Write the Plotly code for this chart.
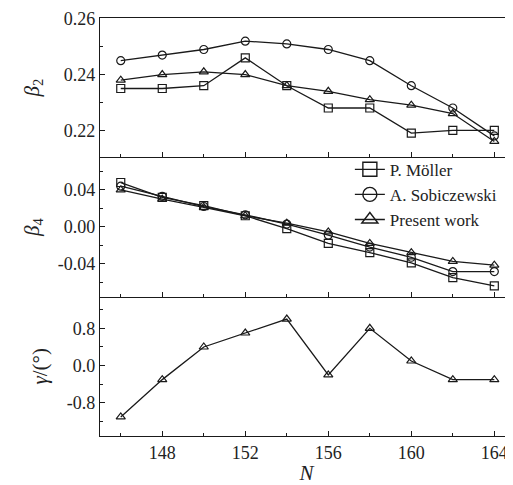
import plotly.graph_objects as go
from plotly.subplots import make_subplots

N = [146, 148, 150, 152, 154, 156, 158, 160, 162, 164]

beta2_moller = [0.235, 0.235, 0.236, 0.246, 0.236, 0.228, 0.228, 0.219, 0.220, 0.220]
beta2_sobic = [0.245, 0.247, 0.249, 0.252, 0.251, 0.249, 0.245, 0.236, 0.228, 0.218]
beta2_present = [0.238, 0.240, 0.241, 0.240, 0.236, 0.234, 0.231, 0.229, 0.226, 0.216]

beta4_moller = [0.048, 0.032, 0.023, 0.012, -0.002, -0.018, -0.028, -0.039, -0.055, -0.064]
beta4_sobic = [0.044, 0.033, 0.022, 0.013, 0.003, -0.009, -0.022, -0.033, -0.0485, -0.0485]
beta4_present = [0.040, 0.030, 0.021, 0.012, 0.004, -0.0055, -0.018, -0.028, -0.0375, -0.0415]

gamma_present = [-1.10, -0.30, 0.40, 0.70, 1.00, -0.20, 0.80, 0.10, -0.30, -0.30]

series_names = ["P. Möller", "A. Sobiczewski", "Present work"]
symbols = ["square-open", "circle-open", "triangle-up-open"]

FONT = "Liberation Serif"
LC = "#1a1a1a"
TC = "#222"

fig = make_subplots(rows=3, cols=1, shared_xaxes=True, vertical_spacing=0)

b2 = [beta2_moller, beta2_sobic, beta2_present]
b4 = [beta4_moller, beta4_sobic, beta4_present]


def mk(symbol, size=8):
    return dict(symbol=symbol, size=size, color=LC, line=dict(width=1.2, color=LC))


for i in range(3):
    fig.add_trace(go.Scatter(x=N, y=b2[i], mode="lines+markers", name=series_names[i],
                             showlegend=False, line=dict(color=LC, width=1.3),
                             marker=mk(symbols[i])), row=1, col=1)
for i in range(3):
    fig.add_trace(go.Scatter(x=N, y=b4[i], mode="lines+markers", name=series_names[i],
                             showlegend=False, line=dict(color=LC, width=1.3),
                             marker=mk(symbols[i])), row=2, col=1)
fig.add_trace(go.Scatter(x=N, y=gamma_present, mode="lines+markers", name="Present work",
                         showlegend=False, line=dict(color=LC, width=1.3),
                         marker=mk("triangle-up-open")), row=3, col=1)

# legend entries (bigger symbols, as in the reference legend)
for i in range(3):
    fig.add_trace(go.Scatter(x=[None], y=[None], mode="lines+markers", name=series_names[i],
                             showlegend=True, line=dict(color=LC, width=1.3),
                             marker=dict(symbol=symbols[i], size=14, color=LC, line=dict(width=1.4, color=LC))),
                  row=2, col=1)

axis_common = dict(showline=True, linecolor=LC, linewidth=1.3, ticks="inside", ticklen=5,
                   tickwidth=1.2, tickcolor=LC, showgrid=False, zeroline=False,
                   tickfont=dict(family=FONT, size=18, color=TC))
minor_common = dict(ticks="inside", ticklen=3, tickwidth=1.2, tickcolor=LC, showgrid=False)

for r in range(1, 4):
    fig.update_xaxes(range=[145.0, 164.9], tickmode="array", tickvals=[148, 152, 156, 160, 164],
                     minor=dict(tickvals=[146, 150, 154, 158, 162], **minor_common),
                     showticklabels=(r == 3), mirror=(r == 1), **axis_common, row=r, col=1)

fig.update_yaxes(range=[0.2103, 0.2603], tickvals=[0.22, 0.24, 0.26], ticktext=["0.22", "0.24", "0.26"],
                 minor=dict(tickvals=[0.21, 0.23, 0.25], **minor_common),
                 title=dict(text="<i>β</i><sub>2</sub>", font=dict(family=FONT, size=21, color=TC), standoff=18),
                 **axis_common, row=1, col=1)
fig.update_yaxes(range=[-0.0757, 0.0753], tickvals=[-0.04, 0.0, 0.04], ticktext=["-0.04", "0.00", "0.04"],
                 minor=dict(tickvals=[-0.06, -0.02, 0.02, 0.06], **minor_common),
                 title=dict(text="<i>β</i><sub>4</sub>", font=dict(family=FONT, size=21, color=TC), standoff=12),
                 **axis_common, row=2, col=1)
fig.update_yaxes(range=[-1.51, 1.48], tickvals=[-0.8, 0.0, 0.8], ticktext=["-0.8", "0.0", "0.8"],
                 minor=dict(tickvals=[-1.2, -0.4, 0.4, 1.2], **minor_common),
                 title=dict(text="<i>γ</i>/(°)", font=dict(family=FONT, size=21, color=TC), standoff=13),
                 **axis_common, row=3, col=1)

fig.update_xaxes(title=dict(text="<i>N</i>", font=dict(family=FONT, size=21, color=TC), standoff=5),
                 row=3, col=1)

# page body has an 8px default margin; size the figure so it ends at the window edge
fig.update_layout(
    width=505, height=477,
    margin=dict(l=92, r=0, t=10, b=49),
    paper_bgcolor="white", plot_bgcolor="white",
    showlegend=True,
    legend=dict(x=0.605, y=0.68, xanchor="left", yanchor="top",
                font=dict(family=FONT, size=17, color=TC),
                itemsizing="trace", tracegroupgap=0, bgcolor="rgba(0,0,0,0)"),
)

fig.write_html("out.html")
